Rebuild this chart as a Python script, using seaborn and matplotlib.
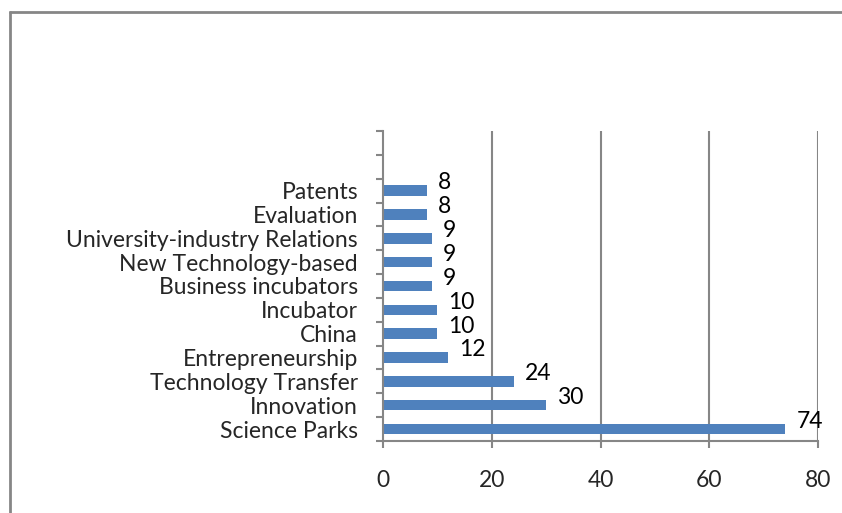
import matplotlib
matplotlib.use("Agg")
import matplotlib.pyplot as plt
import seaborn as sns
import pandas as pd
import numpy as np
from matplotlib.lines import Line2D

categories = ["Patents", "Evaluation", "University-industry Relations",
              "New Technology-based", "Business incubators", "Incubator",
              "China", "Entrepreneurship", "Technology Transfer",
              "Innovation", "Science Parks"]
values = [8, 8, 9, 9, 9, 10, 10, 12, 24, 30, 74]
xticks = [0, 20, 40, 60, 80]

sns.set_theme(style="white")
plt.rcParams['font.family'] = ['Lato', 'DejaVu Sans']

df = pd.DataFrame({"cat": categories, "val": values})

fig = plt.figure(figsize=(8.42, 5.13), dpi=100)
ax = fig.add_axes([383/842, 1-441/513, (818-383)/842, (441-131)/513])

bar_color = "#4F81BD"
grey = "#868686"
sns.barplot(data=df, x="val", y="cat", order=categories, color=bar_color,
            width=0.44, saturation=1, linewidth=0, ax=ax, orient="h")

ax.set_xlim(0, 80)
ax.set_ylim(10.5, -2.5)
ax.set_xticks(xticks)
ax.set_xticklabels([str(t) for t in xticks], fontsize=16.5)
ax.set_yticks(range(len(categories)))
ax.set_yticklabels(categories, fontsize=16.5)
ax.set_yticks(np.arange(-2.5, 11, 1), minor=True)
ax.tick_params(axis="y", which="major", length=0, pad=18)
ax.tick_params(axis="y", which="minor", length=5, width=1.5, color=grey, direction="out", left=True)
ax.tick_params(axis="x", which="major", length=5, width=1.5, color=grey, direction="out", bottom=True, pad=16)
ax.set_xlabel("")
ax.set_ylabel("")

for x in xticks[1:]:
    ax.axvline(x, color=grey, lw=1.5, zorder=0)

for s in ["top", "right"]:
    ax.spines[s].set_visible(False)
for s in ["left", "bottom"]:
    ax.spines[s].set_color(grey)
    ax.spines[s].set_linewidth(1.5)

for i, v in enumerate(values):
    ax.annotate(str(v), xy=(v, i), xytext=(8, 5.5), textcoords="offset points",
                ha="left", va="center", fontsize=16.5, color="black")

# outer border (left and top edges of the frame)
fig.add_artist(Line2D([10/842, 10/842], [-0.01, 1-11/513], transform=fig.transFigure,
                      color=grey, lw=2, solid_capstyle="butt"))
fig.add_artist(Line2D([9/842, 1.05], [1-12/513, 1-12/513], transform=fig.transFigure,
                      color=grey, lw=2, solid_capstyle="butt"))

fig.savefig("out.png", dpi=100)
